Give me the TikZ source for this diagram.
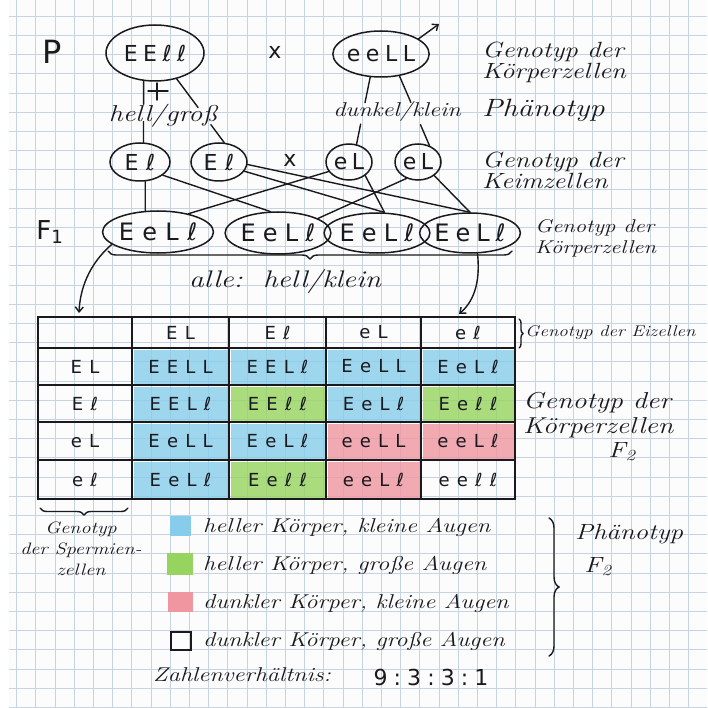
\documentclass[tikz,border=0pt]{standalone}
\usepackage{fontspec}
\usetikzlibrary{shapes.geometric,decorations.pathreplacing,calc,arrows.meta}
\newfontfamily\gfont{DejaVu Sans}
\newcommand{\hwb}[2]{\fontsize{#1}{#2}\selectfont\itshape}
\newcommand{\hs}[1]{\scalebox{1.22}[1]{\begin{tabular}{@{}l@{}}#1\end{tabular}}}
\newcommand{\hsc}[1]{\scalebox{1.22}[1]{\begin{tabular}{@{}c@{}}#1\end{tabular}}}
\definecolor{ink}{RGB}{25,25,30}
\definecolor{gridc}{RGB}{198,211,227}
\definecolor{paper}{RGB}{252,252,253}
\definecolor{pblue}{RGB}{135,205,235}
\definecolor{pgreen}{RGB}{150,212,95}
\definecolor{pred}{RGB}{240,150,160}
\begin{document}
\begin{tikzpicture}[x=1pt,y=-1pt]
\tikzset{
 pen/.style={draw=ink,line width=1.4pt,line cap=round},
 oval/.style 2 args={ellipse,draw=ink,line width=1.5pt,inner sep=0pt,minimum width=#1,minimum height=#2,text=ink},
 gt/.style 2 args={text=ink,font={\gfont\fontsize{#1}{#1}\selectfont\addfontfeature{LetterSpace=#2}}},
 lab/.style 2 args={font={\hwb{#1}{#2}},text=ink,inner sep=1pt},
 cell/.style={inner sep=0pt,text=ink,font={\gfont\fontsize{18}{18}\selectfont\addfontfeature{LetterSpace=40}}},
 tip/.style={-{Straight Barb[length=5pt,width=8pt]}},
 gridl/.style={draw=gridc,line width=0.9pt},
 brc/.style={pen,decorate,decoration={brace,amplitude=#1}},
}
\useasboundingbox (0,0) rectangle (707,708);
\fill[white] (0,0) rectangle (707,708);
\fill[paper] (9,0) rectangle (707,708);
\foreach \k in {0,...,36}{\draw[gridl] (9,{16.2+19.2*\k}) -- (707,{16.2+19.2*\k});}
\foreach \k in {0,...,35}{\draw[gridl] ({16.7+19.2*\k},0) -- ({16.7+19.2*\k},708);}

% P generation
\node[gt={32}{0}] (Plab) at (52,52) {P};
\node[oval={98pt}{56pt},gt={22}{25}] (P0) at (155,53) {EEℓℓ};
\node[gt={22}{0}] (cross1) at (275,52) {x};
\node[oval={92pt}{46pt},gt={22}{25}] (P1) at (381,54) {eeLL};
\node[lab={23}{23}] (hg) at (163,116) {\hs{hell/groß}};
\node[lab={20}{20}] (dk) at (397,112) {\hs{dunkel/klein}};
\node[lab={22}{20},anchor=west] (t1) at (481,63) {\hs{Genotyp der\\Körperzellen}};
\node[lab={25}{25},anchor=west] (t2) at (481,112) {\hs{Phänotyp}};
\node[lab={22}{20},anchor=west] (t3) at (481,173) {\hs{Genotyp der\\Keimzellen}};
\node[lab={18.5}{21},anchor=west] (t4) at (534,239) {\hs{Genotyp der\\Körperzellen}};

% female / male symbols
\draw[pen] (148,91) -- (168,91);
\draw[pen] (157,83) -- (157,100);
\coordinate (mtip) at (439,24);
\draw[pen,tip] (P1.22) -- (mtip);

% gametes
\node[oval={60pt}{38pt},gt={22}{35}] (G1) at (140,162) {Eℓ};
\node[oval={56pt}{38pt},gt={22}{35}] (G2) at (219,162) {Eℓ};
\node[gt={22}{0}] (cross2) at (290,160) {x};
\node[oval={46pt}{36pt},gt={22}{20}] (G3) at (349,162) {eL};
\node[oval={46pt}{36pt},gt={22}{20}] (G4) at (418,162) {eL};

\draw[pen] (P0.-112) -- ($(P0.-112)!0.38!(G1.80)$);
\draw[pen] ($(P0.-112)!0.66!(G1.80)$) -- (G1.80);
\draw[pen] (P0.-50) -- ($(P0.-50)!0.45!(G2.75)$);
\draw[pen] ($(P0.-50)!0.72!(G2.75)$) -- (G2.75);
\draw[pen] (P1.-115) -- ($(P1.-115)!0.38!(G3.67)$);
\draw[pen] ($(P1.-115)!0.7!(G3.67)$) -- (G3.67);
\draw[pen] (P1.-50) -- ($(P1.-50)!0.38!(G4.55)$);
\draw[pen] ($(P1.-50)!0.7!(G4.55)$) -- (G4.55);

% F1
\node[gt={26}{0}] (F1lab) at (50,232) {F\textsubscript{1}};
\node[oval={108pt}{42pt},gt={24}{35}] (F1a) at (158,232) {EeLℓ};
\node[oval={98pt}{42pt},gt={24}{30}] (F1b) at (278,233) {EeLℓ};
\node[oval={96pt}{40pt},gt={24}{30}] (F1c) at (377,233) {EeLℓ};
\node[oval={88pt}{40pt},gt={24}{25}] (F1d) at (470,233) {EeLℓ};

\draw[pen] (G1.-75) -- (F1a.121);
\draw[pen] (G1.-30) -- (F1b.110);
\draw[pen] (G2.-20) -- (F1c.70);
\draw[pen] (G2.-5) -- (F1d.90);
\draw[pen] (G3.-155) -- (F1a.31);
\draw[pen] (G3.-40) -- (F1c.70);
\draw[pen] (G4.-125) -- (F1b.20);
\draw[pen] (G4.-40) -- (F1d.90);

\coordinate (bra) at (512,251);
\coordinate (brb) at (108,251);
\draw[brc=8pt] (bra) -- (brb);
\node[lab={24}{24}] (alle) at (285,282) {\hs{alle:\ \ hell/klein}};

\coordinate (aL) at (79,313);
\draw[pen,tip] (F1a.-165) .. controls (88,265) and (80,290) .. (aL);
\coordinate (aR) at (459,314);
\draw[pen,tip] (F1d.-70) .. controls (481,285) and (472,303) .. (aR);

% Punnett square fills
\foreach \xa/\xb/\ya/\yb/\c in {
 132/229/348/385/pblue, 229/326/348/385/pblue, 326/421/348/385/pblue, 421/515/348/385/pblue,
 132/229/385/422/pblue, 229/326/385/422/pgreen, 326/421/385/422/pblue, 421/515/385/422/pgreen,
 132/229/422/460/pblue, 229/326/422/460/pblue, 326/421/422/460/pred, 421/515/422/460/pred,
 132/229/460/499/pblue, 229/326/460/499/pgreen, 326/421/460/499/pred}
 {\fill[\c,opacity=0.8] (\xa+1.5,\ya+1.5) rectangle (\xb-1.5,\yb-1.5);}

\foreach \x in {132,229,326,421}{\draw[ink,line width=1.4pt] (\x,317) -- (\x,499);}
\foreach \y in {348,385,422,460}{\draw[ink,line width=1.4pt] (38,\y) -- (515,\y);}
\draw[ink,line width=1.8pt] (38,317) rectangle (515,499);

\foreach \n/\x/\t in {h1/180.5/EL, h2/277.5/Eℓ, h3/373.5/eL, h4/468/eℓ}
 {\node[cell] (\n) at (\x,332.5) {\t};}
\foreach \n/\y/\t in {r1/366.5/EL, r2/403.5/Eℓ, r3/441/eL, r4/479.5/eℓ}
 {\node[cell] (\n) at (85,\y) {\t};}
\foreach \n/\x/\y/\t in {
 c11/180.5/366.5/EELL, c12/277.5/366.5/EELℓ, c13/373.5/366.5/EeLL, c14/468/366.5/EeLℓ,
 c21/180.5/403.5/EELℓ, c22/277.5/403.5/EEℓℓ, c23/373.5/403.5/EeLℓ, c24/468/403.5/Eeℓℓ,
 c31/180.5/441/EeLL, c32/277.5/441/EeLℓ, c33/373.5/441/eeLL, c34/468/441/eeLℓ,
 c41/180.5/479.5/EeLℓ, c42/277.5/479.5/Eeℓℓ, c43/373.5/479.5/eeLℓ, c44/468/479.5/eeℓℓ}
 {\node[cell] (\n) at (\x,\y) {\t};}

% right of table
\coordinate (ebA) at (519,319);
\coordinate (ebB) at (519,348);
\draw[brc=4pt] (ebA) -- (ebB);
\node[lab={15.5}{16},anchor=west] (t5) at (524,333) {\hs{Genotyp der Eizellen}};
\node[lab={23}{25},anchor=west] (t6) at (522,416) {\hs{Genotyp der\\Körperzellen}};
\node[lab={22}{22}] (t7) at (622,453) {\hs{F\textsubscript{2}}};

% bottom
\coordinate (sbA) at (128,508);
\coordinate (sbB) at (40,508);
\draw[brc=7pt] (sbA) -- (sbB);
\node[lab={16.5}{21}] (t8) at (81,550) {\hsc{Genotyp\\der Spermien-\\zellen}};

\node[fill=pblue,minimum width=21pt,minimum height=20pt,inner sep=0pt] (k1) at (180.5,526) {};
\node[fill=pgreen,minimum width=26pt,minimum height=22pt,inner sep=0pt] (k2) at (180,564) {};
\node[fill=pred,minimum width=25pt,minimum height=20pt,inner sep=0pt] (k3) at (180.5,602) {};
\node[draw=ink,line width=1.2pt,minimum width=20pt,minimum height=18pt,inner sep=0pt] (k4) at (181,641) {};
\node[lab={20}{20},anchor=west] (l1) at (202,528) {\hs{heller Körper, kleine Augen}};
\node[lab={20}{20},anchor=west] (l2) at (202,566) {\hs{heller Körper, große Augen}};
\node[lab={20}{20},anchor=west] (l3) at (202,604) {\hs{dunkler Körper, kleine Augen}};
\node[lab={20}{20},anchor=west] (l4) at (202,642) {\hs{dunkler Körper, große Augen}};

\coordinate (pbA) at (549,518);
\coordinate (pbB) at (549,656);
\draw[brc=10pt] (pbA) -- (pbB);
\node[lab={22}{22},anchor=west] (t9) at (574,535) {\hs{Phänotyp}};
\node[lab={22}{22}] (t10) at (598,568) {\hs{F\textsubscript{2}}};

\node[lab={20}{20},anchor=west] (zv) at (152,677) {\hs{Zahlenverhältnis:}};
\node[gt={22}{0},anchor=west] (ratio) at (370,677) {9\;:\;3\;:\;3\;:\;1};
\end{tikzpicture}
\end{document}
